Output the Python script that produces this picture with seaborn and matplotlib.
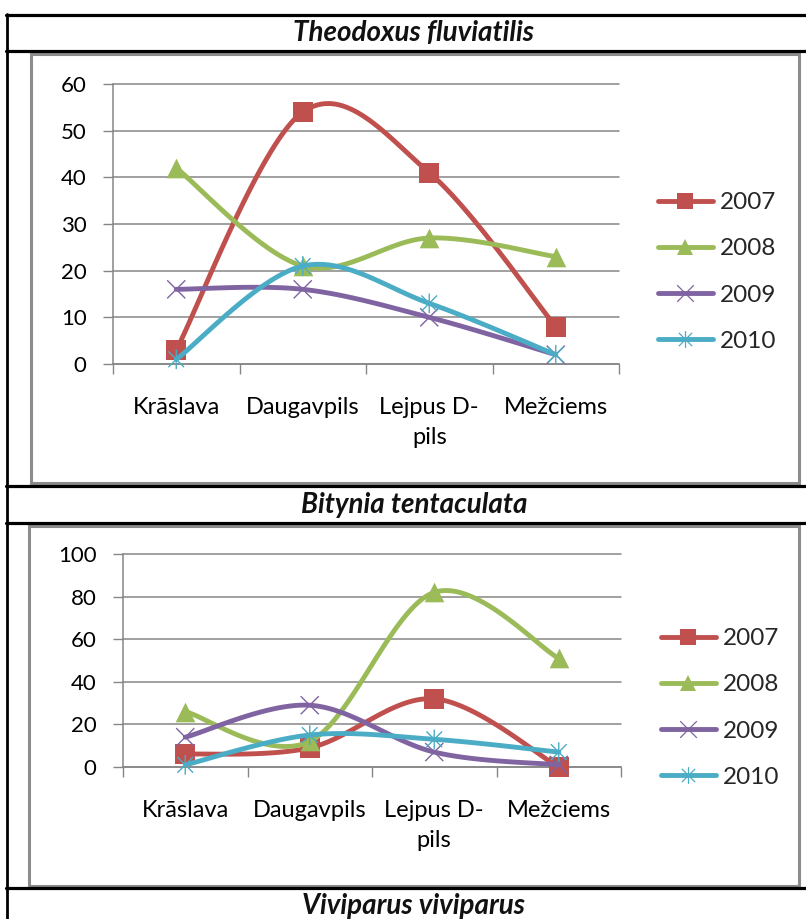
import numpy as np
import matplotlib
matplotlib.use("Agg")
import matplotlib.pyplot as plt
from matplotlib.lines import Line2D
from matplotlib.patches import Rectangle
from matplotlib.path import Path
import seaborn as sns

# ---- data -------------------------------------------------------------
sites = ["Krāslava", "Daugavpils", "Lejpus D-\npils", "Mežciems"]
years = ["2007", "2008", "2009", "2010"]

theodoxus_2007 = [3, 54, 41, 8]
theodoxus_2008 = [42, 21, 27, 23]
theodoxus_2009 = [16, 16, 10, 2]
theodoxus_2010 = [1, 21, 13, 2]

bitynia_2007 = [6, 9, 32, 0]
bitynia_2008 = [26, 12, 82, 51]
bitynia_2009 = [14, 29, 7, 1]
bitynia_2010 = [1, 15, 13, 7]

titles = ["Theodoxus fluviatilis", "Bitynia tentaculata", "Viviparus viviparus"]

# ---- style ------------------------------------------------------------
sns.set_style("white")
plt.rcParams["font.family"] = ["Lato", "DejaVu Sans"]

colors = ["#C0504D", "#9BBB59", "#8064A2", "#4BACC6"]
GRID = "#868686"
W, H = 806, 919

# open stroke markers: a cross, and a cross with a vertical stroke
cross = Path([(-1, -1), (1, 1), (-1, 1), (1, -1)],
             [Path.MOVETO, Path.LINETO] * 2)
star = Path([(-1, -1), (1, 1), (-1, 1), (1, -1), (0, -1.25), (0, 1.25)],
            [Path.MOVETO, Path.LINETO] * 3)
marker_specs = [
    dict(marker="s", s=190, filled=True),
    dict(marker="^", s=200, filled=True),
    dict(marker=cross, s=170, filled=False),
    dict(marker=star, s=200, filled=False),
]


def smooth(values, steps=40):
    """Cubic Bezier smoothing through the points (spreadsheet style)."""
    p = np.column_stack([np.arange(len(values)), values]).astype(float)
    ext = np.vstack([p[0], p, p[-1]])
    out = []
    t = np.linspace(0, 1, steps)[:, None]
    for i in range(len(p) - 1):
        p0, p1, p2, p3 = ext[i], ext[i + 1], ext[i + 2], ext[i + 3]
        c1 = p1 + (p2 - p0) / 6
        c2 = p2 - (p3 - p1) / 6
        seg = ((1 - t) ** 3 * p1 + 3 * (1 - t) ** 2 * t * c1
               + 3 * (1 - t) * t ** 2 * c2 + t ** 3 * p2)
        out.append(seg if i == 0 else seg[1:])
    return np.vstack(out)


def box(left, top, right, bottom):
    return [left / W, 1 - bottom / H, (right - left) / W, (bottom - top) / H]


def fx(x):
    return x / W


def fy(y):
    return 1 - y / H


fig = plt.figure(figsize=(W / 100, H / 100), dpi=100)
fig.patch.set_facecolor("white")

# ---- table frame ------------------------------------------------------
for y in [15, 51, 486, 523, 888]:
    fig.add_artist(Line2D([fx(6), fx(806)], [fy(y), fy(y)], color="black",
                          lw=2.3, transform=fig.transFigure))
fig.add_artist(Line2D([fx(7.5), fx(7.5)], [fy(14), fy(919)], color="black",
                      lw=2.0, transform=fig.transFigure))

for (l, t, r, b) in [(31, 54, 799, 483), (29, 526, 799, 886)]:
    fig.add_artist(Rectangle((fx(l), fy(b)), (r - l) / W, (b - t) / H,
                             transform=fig.transFigure, fill=False,
                             edgecolor="#8c8c8c", lw=2.2))

for title, y in zip(titles, [33, 505, 906]):
    fig.text(fx(414), fy(y), title, ha="center", va="center", fontsize=20,
             fontweight="bold", fontstyle="italic", color="#111111")


def draw_chart(ax, series, ymax, ystep, legend_anchor):
    x = np.arange(len(sites))
    for i, (vals, c, spec) in enumerate(zip(series, colors, marker_specs)):
        curve = smooth(vals)
        sns.lineplot(x=curve[:, 0], y=curve[:, 1], ax=ax, color=c, lw=3.5,
                     sort=False, estimator=None, zorder=3 + 2 * i,
                     solid_capstyle="round")
        if spec["filled"]:
            sns.scatterplot(x=x, y=vals, ax=ax, marker=spec["marker"],
                            s=spec["s"], color=c, edgecolor=c, linewidth=0,
                            zorder=4 + 2 * i, clip_on=False)
        else:
            sns.scatterplot(x=x, y=vals, ax=ax, marker=spec["marker"],
                            s=spec["s"], color=c, facecolor="none",
                            edgecolor=c, linewidth=1.0,
                            zorder=4 + 2 * i, clip_on=False)
    for ln in ax.lines:
        ln.set_clip_on(False)

    ax.set_xlim(-0.5, len(sites) - 0.5)
    ax.set_ylim(0, ymax)
    ax.set_yticks(np.arange(0, ymax + 1, ystep))
    ax.set_xticks(x)
    ax.set_xticklabels(sites)
    ax.set_xticks(np.arange(-0.5, len(sites), 1.0), minor=True)
    ax.tick_params(axis="x", which="major", length=0, pad=24, labelsize=17,
                   labelcolor="black")
    ax.tick_params(axis="x", which="minor", length=7, width=1, color=GRID,
                   direction="out", bottom=True)
    ax.tick_params(axis="y", length=7, width=1, color=GRID, pad=12,
                   labelsize=16, labelcolor="black", left=True)
    for lab in ax.get_xticklabels():
        lab.set_linespacing(1.5)
    ax.grid(axis="y", color=GRID, lw=1.1)
    for gl in ax.get_ygridlines():
        gl.set_clip_on(False)
    ax.set_axisbelow(True)
    for side in ["top", "right"]:
        ax.spines[side].set_visible(False)
    for side in ["left", "bottom"]:
        ax.spines[side].set_color(GRID)
        ax.spines[side].set_linewidth(1.1)
    ax.set_xlabel("")
    ax.set_ylabel("")
    ax.set_facecolor("none")

    handles = []
    for c, spec in zip(colors, marker_specs):
        if spec["filled"]:
            h = Line2D([], [], color=c, lw=3.5, marker=spec["marker"],
                       markersize=12, markerfacecolor=c, markeredgewidth=0,
                       solid_capstyle="round")
        else:
            h = Line2D([], [], color=c, lw=3.5, marker=spec["marker"],
                       markersize=12, markerfacecolor="none",
                       markeredgecolor=c, markeredgewidth=0.9,
                       solid_capstyle="round")
        handles.append(h)
    ax.legend(handles, years, loc="center left",
              bbox_to_anchor=(fx(legend_anchor[0]), fy(legend_anchor[1])),
              bbox_transform=fig.transFigure, frameon=False, fontsize=17.5,
              handlelength=2.25, handletextpad=0.3, labelspacing=1.04,
              borderpad=0, borderaxespad=0)


ax1 = fig.add_axes(box(113, 84, 619, 364))
draw_chart(ax1, [theodoxus_2007, theodoxus_2008, theodoxus_2009,
                 theodoxus_2010], 60, 10, (658, 272))

ax2 = fig.add_axes(box(123, 554, 621, 767))
draw_chart(ax2, [bitynia_2007, bitynia_2008, bitynia_2009, bitynia_2010],
           100, 20, (661, 708))

fig.savefig("out.png", dpi=100, facecolor="white")
